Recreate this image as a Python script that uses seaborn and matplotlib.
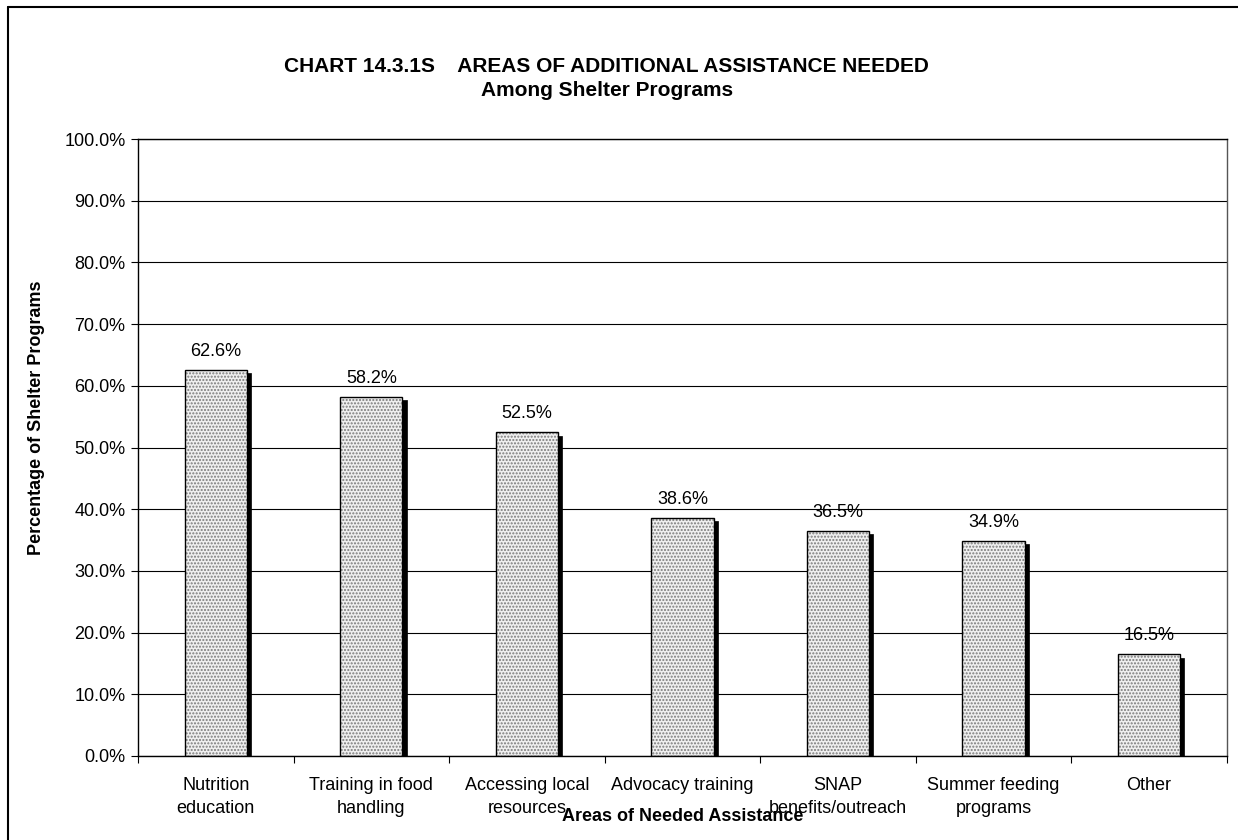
import numpy as np
import pandas as pd
import seaborn as sns
import matplotlib
matplotlib.use('Agg')
import matplotlib.pyplot as plt
from matplotlib import patheffects
from matplotlib.colors import to_rgba
from matplotlib.ticker import FixedLocator, PercentFormatter
from matplotlib.lines import Line2D

categories = ['Nutrition\neducation', 'Training in food\nhandling', 'Accessing local\nresources',
              'Advocacy training', 'SNAP\nbenefits/outreach', 'Summer feeding\nprograms', 'Other']
percents = [62.6, 58.2, 52.5, 38.6, 36.5, 34.9, 16.5]
y_ticks = [0, 10, 20, 30, 40, 50, 60, 70, 80, 90, 100]

df = pd.DataFrame({'area': categories, 'pct': percents})

sns.set_theme(style='white')
plt.rcParams['font.family'] = ['Liberation Sans', 'DejaVu Sans']
plt.rcParams['text.color'] = 'black'
plt.rcParams['axes.labelcolor'] = 'black'

fig = plt.figure(figsize=(12.38, 8.4), dpi=100)
ax = fig.add_axes([0.1115, 0.1, 0.8795, 0.7345])

sns.barplot(data=df, x='area', y='pct', ax=ax, width=0.4, color='#efefef',
            edgecolor='black', linewidth=1.0, saturation=1)

# dotted fill + solid drop shadow like the original
for p in ax.patches:
    p.set_hatch('.....')
    p._hatch_color = to_rgba('#7a7a7a')
    p.set_path_effects([patheffects.PathPatchEffect(offset=(3, -2.5), facecolor='black',
                                                    edgecolor='black', linewidth=0.5),
                        patheffects.Normal()])

ax.bar_label(ax.containers[0], fmt='%.1f%%', padding=7, fontsize=13, color='black')

ax.set_ylim(0, 100)
ax.set_xlim(-0.5, len(categories) - 0.5)
ax.set_yticks(y_ticks)
ax.yaxis.set_major_formatter(PercentFormatter(decimals=1))
ax.grid(axis='y', color='black', linewidth=0.8)
ax.set_axisbelow(True)

ax.xaxis.set_minor_locator(FixedLocator(np.arange(-0.5, len(categories), 1.0)))
ax.tick_params(axis='x', which='major', length=0, pad=15, labelsize=13, colors='black')
ax.tick_params(axis='x', which='minor', length=5, width=0.8, direction='out', bottom=True, color='black')
ax.tick_params(axis='y', which='major', length=5, width=0.8, direction='out', left=True,
               labelsize=13, colors='black', pad=4)
for lbl in ax.get_xticklabels():
    lbl.set_linespacing(1.45)

for s in ax.spines.values():
    s.set_color('black')
    s.set_linewidth(1.0)
ax.spines['right'].set_color('#555555')

ax.set_xlabel('Areas of Needed Assistance', fontsize=13, fontweight='bold')
ax.set_ylabel('Percentage of Shelter Programs', fontsize=13, fontweight='bold')
ax.xaxis.set_label_coords(0.5, -0.085)
ax.yaxis.set_label_coords(-0.085, 0.548)

fig.text(0.49, 0.921, 'CHART 14.3.1S    AREAS OF ADDITIONAL ASSISTANCE NEEDED',
         ha='center', va='center', fontsize=15, fontweight='bold')
fig.text(0.49, 0.892, 'Among Shelter Programs', ha='center', va='center',
         fontsize=15, fontweight='bold')

# chart border (left and top edges visible)
fig.add_artist(Line2D([8 / 1238, 8 / 1238], [0, 1 - 7 / 840], transform=fig.transFigure,
                      color='black', linewidth=1.5))
fig.add_artist(Line2D([8 / 1238, 1], [1 - 7 / 840, 1 - 7 / 840], transform=fig.transFigure,
                      color='black', linewidth=1.5))

fig.savefig('out.png', dpi=100)
